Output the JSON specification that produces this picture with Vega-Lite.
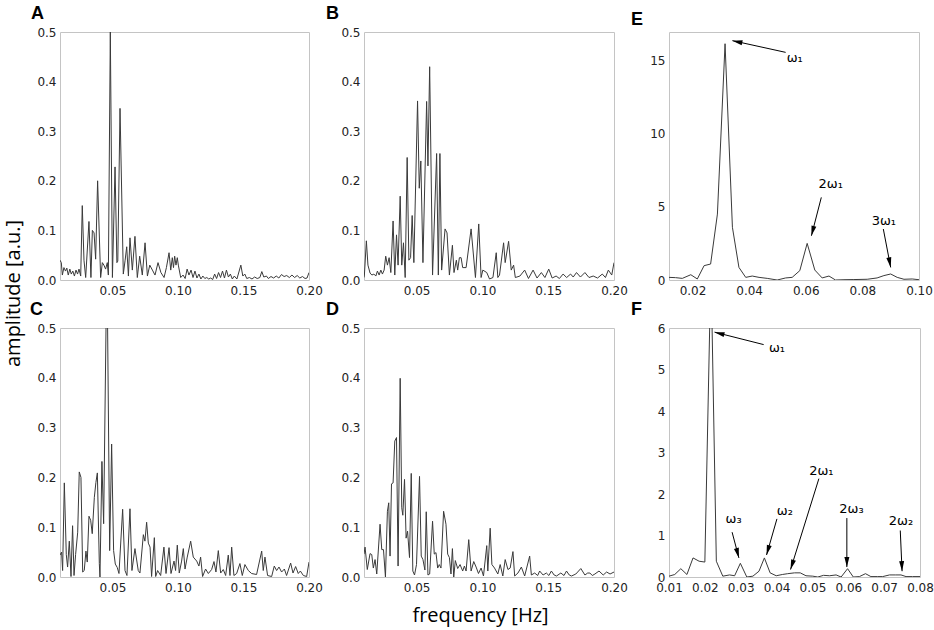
{
  "$schema": "https://vega.github.io/schema/vega-lite/v6.json",
  "padding": {"left": 2, "top": 4, "right": 5, "bottom": 5},
  "background": "white",
  "config": {
    "view": {"stroke": "#c4c4c4", "strokeWidth": 1},
    "axis": {"grid": false, "ticks": false, "domain": false, "labelFont": "DejaVu Sans", "labelFontSize": 12, "labelColor": "#222222", "labelPadding": 4, "labelFlush": false, "labelOverlap": false, "title": null},
    "title": {"font": "Liberation Sans", "fontSize": 18, "fontWeight": "bold", "color": "#000000", "anchor": "start", "frame": "group", "baseline": "alphabetic", "offset": 3}
  },
  "datasets": {
    "A": [
      {"f":0.0100,"a":0.040},{"f":0.0110,"a":0.035},{"f":0.0118,"a":0.010},{"f":0.0130,"a":0.025},{"f":0.0142,"a":0.018},{"f":0.0152,"a":0.024},{"f":0.0163,"a":0.010},{"f":0.0175,"a":0.022},{"f":0.0186,"a":0.012},{"f":0.0198,"a":0.018},{"f":0.0210,"a":0.008},{"f":0.0222,"a":0.020},{"f":0.0234,"a":0.012},{"f":0.0245,"a":0.022},{"f":0.0258,"a":0.008},{"f":0.0270,"a":0.150},{"f":0.0283,"a":0.040},{"f":0.0296,"a":0.005},{"f":0.0321,"a":0.118},{"f":0.0336,"a":0.005},{"f":0.0347,"a":0.100},{"f":0.0360,"a":0.095},{"f":0.0372,"a":0.042},{"f":0.0387,"a":0.200},{"f":0.0410,"a":0.005},{"f":0.0423,"a":0.035},{"f":0.0435,"a":0.030},{"f":0.0448,"a":0.022},{"f":0.0461,"a":0.035},{"f":0.0469,"a":0.010},{"f":0.0484,"a":0.500},{"f":0.0500,"a":0.005},{"f":0.0520,"a":0.228},{"f":0.0534,"a":0.035},{"f":0.0541,"a":0.038},{"f":0.0558,"a":0.346},{"f":0.0583,"a":0.012},{"f":0.0597,"a":0.040},{"f":0.0609,"a":0.067},{"f":0.0622,"a":0.008},{"f":0.0634,"a":0.085},{"f":0.0652,"a":0.020},{"f":0.0672,"a":0.088},{"f":0.0690,"a":0.005},{"f":0.0708,"a":0.048},{"f":0.0728,"a":0.010},{"f":0.0749,"a":0.075},{"f":0.0767,"a":0.008},{"f":0.0785,"a":0.030},{"f":0.0805,"a":0.020},{"f":0.0825,"a":0.010},{"f":0.0848,"a":0.035},{"f":0.0870,"a":0.015},{"f":0.0894,"a":0.005},{"f":0.0912,"a":0.025},{"f":0.0932,"a":0.055},{"f":0.0945,"a":0.020},{"f":0.0957,"a":0.045},{"f":0.0966,"a":0.025},{"f":0.0975,"a":0.048},{"f":0.0985,"a":0.030},{"f":0.0995,"a":0.045},{"f":0.1003,"a":0.030},{"f":0.1021,"a":0.005},{"f":0.1039,"a":0.010},{"f":0.1055,"a":0.003},{"f":0.1070,"a":0.022},{"f":0.1084,"a":0.010},{"f":0.1100,"a":0.020},{"f":0.1115,"a":0.005},{"f":0.1130,"a":0.018},{"f":0.1145,"a":0.004},{"f":0.1160,"a":0.012},{"f":0.1175,"a":0.002},{"f":0.1190,"a":0.008},{"f":0.1205,"a":0.003},{"f":0.1220,"a":0.005},{"f":0.1235,"a":0.002},{"f":0.1250,"a":0.004},{"f":0.1265,"a":0.001},{"f":0.1280,"a":0.012},{"f":0.1295,"a":0.003},{"f":0.1310,"a":0.015},{"f":0.1325,"a":0.005},{"f":0.1340,"a":0.018},{"f":0.1355,"a":0.004},{"f":0.1370,"a":0.020},{"f":0.1385,"a":0.006},{"f":0.1400,"a":0.012},{"f":0.1415,"a":0.002},{"f":0.1430,"a":0.008},{"f":0.1450,"a":0.002},{"f":0.1480,"a":0.030},{"f":0.1495,"a":0.008},{"f":0.1510,"a":0.012},{"f":0.1525,"a":0.003},{"f":0.1545,"a":0.005},{"f":0.1565,"a":0.002},{"f":0.1585,"a":0.006},{"f":0.1605,"a":0.003},{"f":0.1625,"a":0.005},{"f":0.1640,"a":0.017},{"f":0.1655,"a":0.006},{"f":0.1675,"a":0.008},{"f":0.1690,"a":0.003},{"f":0.1710,"a":0.007},{"f":0.1730,"a":0.004},{"f":0.1750,"a":0.008},{"f":0.1770,"a":0.004},{"f":0.1790,"a":0.011},{"f":0.1810,"a":0.007},{"f":0.1830,"a":0.009},{"f":0.1850,"a":0.005},{"f":0.1870,"a":0.010},{"f":0.1890,"a":0.005},{"f":0.1910,"a":0.009},{"f":0.1930,"a":0.004},{"f":0.1950,"a":0.007},{"f":0.1970,"a":0.003},{"f":0.1985,"a":0.004},{"f":0.2000,"a":0.015}
    ],
    "B": [
      {"f":0.0100,"a":0.005},{"f":0.0103,"a":0.010},{"f":0.0118,"a":0.079},{"f":0.0130,"a":0.030},{"f":0.0146,"a":0.014},{"f":0.0160,"a":0.010},{"f":0.0175,"a":0.012},{"f":0.0190,"a":0.008},{"f":0.0202,"a":0.018},{"f":0.0215,"a":0.010},{"f":0.0228,"a":0.020},{"f":0.0240,"a":0.012},{"f":0.0253,"a":0.020},{"f":0.0265,"a":0.048},{"f":0.0278,"a":0.030},{"f":0.0291,"a":0.045},{"f":0.0304,"a":0.015},{"f":0.0321,"a":0.119},{"f":0.0334,"a":0.010},{"f":0.0347,"a":0.091},{"f":0.0359,"a":0.030},{"f":0.0375,"a":0.169},{"f":0.0387,"a":0.030},{"f":0.0400,"a":0.075},{"f":0.0413,"a":0.005},{"f":0.0428,"a":0.247},{"f":0.0441,"a":0.040},{"f":0.0454,"a":0.045},{"f":0.0466,"a":0.130},{"f":0.0479,"a":0.035},{"f":0.0507,"a":0.361},{"f":0.0520,"a":0.185},{"f":0.0532,"a":0.240},{"f":0.0548,"a":0.035},{"f":0.0576,"a":0.360},{"f":0.0586,"a":0.230},{"f":0.0599,"a":0.430},{"f":0.0621,"a":0.010},{"f":0.0652,"a":0.255},{"f":0.0665,"a":0.010},{"f":0.0677,"a":0.255},{"f":0.0690,"a":0.020},{"f":0.0716,"a":0.103},{"f":0.0731,"a":0.095},{"f":0.0749,"a":0.010},{"f":0.0772,"a":0.070},{"f":0.0784,"a":0.015},{"f":0.0802,"a":0.040},{"f":0.0812,"a":0.020},{"f":0.0825,"a":0.045},{"f":0.0838,"a":0.045},{"f":0.0850,"a":0.025},{"f":0.0876,"a":0.025},{"f":0.0914,"a":0.103},{"f":0.0947,"a":0.005},{"f":0.0972,"a":0.113},{"f":0.0990,"a":0.005},{"f":0.1003,"a":0.020},{"f":0.1033,"a":0.015},{"f":0.1054,"a":0.002},{"f":0.1080,"a":0.005},{"f":0.1105,"a":0.055},{"f":0.1117,"a":0.005},{"f":0.1130,"a":0.010},{"f":0.1161,"a":0.075},{"f":0.1173,"a":0.035},{"f":0.1199,"a":0.078},{"f":0.1219,"a":0.020},{"f":0.1237,"a":0.030},{"f":0.1250,"a":0.005},{"f":0.1285,"a":0.008},{"f":0.1321,"a":0.020},{"f":0.1350,"a":0.003},{"f":0.1385,"a":0.020},{"f":0.1415,"a":0.004},{"f":0.1448,"a":0.015},{"f":0.1475,"a":0.005},{"f":0.1504,"a":0.022},{"f":0.1530,"a":0.004},{"f":0.1560,"a":0.008},{"f":0.1585,"a":0.003},{"f":0.1613,"a":0.012},{"f":0.1640,"a":0.005},{"f":0.1670,"a":0.012},{"f":0.1690,"a":0.006},{"f":0.1715,"a":0.015},{"f":0.1745,"a":0.006},{"f":0.1779,"a":0.015},{"f":0.1810,"a":0.005},{"f":0.1842,"a":0.008},{"f":0.1875,"a":0.004},{"f":0.1911,"a":0.012},{"f":0.1935,"a":0.005},{"f":0.1957,"a":0.020},{"f":0.1983,"a":0.010},{"f":0.2000,"a":0.035}
    ],
    "C": [
      {"f":0.0100,"a":0.044},{"f":0.0112,"a":0.050},{"f":0.0120,"a":0.013},{"f":0.0133,"a":0.189},{"f":0.0148,"a":0.045},{"f":0.0158,"a":0.020},{"f":0.0171,"a":0.072},{"f":0.0184,"a":0.001},{"f":0.0196,"a":0.103},{"f":0.0207,"a":0.003},{"f":0.0219,"a":0.045},{"f":0.0235,"a":0.090},{"f":0.0247,"a":0.211},{"f":0.0260,"a":0.200},{"f":0.0273,"a":0.010},{"f":0.0285,"a":0.013},{"f":0.0298,"a":0.052},{"f":0.0308,"a":0.030},{"f":0.0321,"a":0.122},{"f":0.0334,"a":0.114},{"f":0.0346,"a":0.087},{"f":0.0362,"a":0.160},{"f":0.0374,"a":0.190},{"f":0.0385,"a":0.209},{"f":0.0400,"a":0.027},{"f":0.0405,"a":0.000},{"f":0.0420,"a":0.232},{"f":0.0433,"a":0.107},{"f":0.0458,"a":0.650},{"f":0.0479,"a":0.053},{"f":0.0494,"a":0.267},{"f":0.0509,"a":0.053},{"f":0.0522,"a":0.026},{"f":0.0537,"a":0.019},{"f":0.0550,"a":0.007},{"f":0.0578,"a":0.136},{"f":0.0596,"a":0.013},{"f":0.0611,"a":0.003},{"f":0.0634,"a":0.137},{"f":0.0649,"a":0.013},{"f":0.0672,"a":0.057},{"f":0.0697,"a":0.013},{"f":0.0710,"a":0.008},{"f":0.0736,"a":0.085},{"f":0.0748,"a":0.072},{"f":0.0761,"a":0.110},{"f":0.0774,"a":0.068},{"f":0.0787,"a":0.060},{"f":0.0799,"a":0.001},{"f":0.0820,"a":0.079},{"f":0.0830,"a":0.001},{"f":0.0845,"a":0.013},{"f":0.0868,"a":0.003},{"f":0.0893,"a":0.060},{"f":0.0909,"a":0.007},{"f":0.0932,"a":0.059},{"f":0.0947,"a":0.007},{"f":0.0970,"a":0.032},{"f":0.0982,"a":0.013},{"f":0.0995,"a":0.064},{"f":0.1010,"a":0.008},{"f":0.1028,"a":0.032},{"f":0.1041,"a":0.057},{"f":0.1054,"a":0.016},{"f":0.1071,"a":0.040},{"f":0.1097,"a":0.072},{"f":0.1117,"a":0.040},{"f":0.1143,"a":0.032},{"f":0.1160,"a":0.022},{"f":0.1173,"a":0.040},{"f":0.1188,"a":0.001},{"f":0.1211,"a":0.016},{"f":0.1232,"a":0.007},{"f":0.1257,"a":0.015},{"f":0.1275,"a":0.031},{"f":0.1290,"a":0.010},{"f":0.1308,"a":0.053},{"f":0.1326,"a":0.008},{"f":0.1346,"a":0.015},{"f":0.1364,"a":0.003},{"f":0.1384,"a":0.044},{"f":0.1397,"a":0.003},{"f":0.1410,"a":0.060},{"f":0.1427,"a":0.003},{"f":0.1448,"a":0.007},{"f":0.1473,"a":0.027},{"f":0.1491,"a":0.003},{"f":0.1511,"a":0.025},{"f":0.1537,"a":0.013},{"f":0.1562,"a":0.007},{"f":0.1600,"a":0.005},{"f":0.1639,"a":0.052},{"f":0.1651,"a":0.013},{"f":0.1664,"a":0.040},{"f":0.1684,"a":0.003},{"f":0.1715,"a":0.001},{"f":0.1735,"a":0.022},{"f":0.1753,"a":0.013},{"f":0.1771,"a":0.020},{"f":0.1791,"a":0.010},{"f":0.1812,"a":0.016},{"f":0.1829,"a":0.003},{"f":0.1860,"a":0.028},{"f":0.1878,"a":0.008},{"f":0.1898,"a":0.021},{"f":0.1918,"a":0.007},{"f":0.1934,"a":0.012},{"f":0.1957,"a":0.003},{"f":0.1982,"a":0.001},{"f":0.2000,"a":0.030}
    ],
    "D": [
      {"f":0.0100,"a":0.046},{"f":0.0108,"a":0.060},{"f":0.0125,"a":0.015},{"f":0.0146,"a":0.047},{"f":0.0159,"a":0.045},{"f":0.0171,"a":0.018},{"f":0.0184,"a":0.035},{"f":0.0197,"a":0.006},{"f":0.0222,"a":0.106},{"f":0.0235,"a":0.055},{"f":0.0248,"a":0.055},{"f":0.0263,"a":0.000},{"f":0.0278,"a":0.132},{"f":0.0288,"a":0.149},{"f":0.0298,"a":0.042},{"f":0.0309,"a":0.187},{"f":0.0321,"a":0.189},{"f":0.0334,"a":0.273},{"f":0.0347,"a":0.280},{"f":0.0359,"a":0.022},{"f":0.0375,"a":0.399},{"f":0.0387,"a":0.139},{"f":0.0395,"a":0.124},{"f":0.0408,"a":0.196},{"f":0.0420,"a":0.078},{"f":0.0431,"a":0.092},{"f":0.0446,"a":0.039},{"f":0.0459,"a":0.208},{"f":0.0471,"a":0.012},{"f":0.0484,"a":0.004},{"f":0.0499,"a":0.025},{"f":0.0522,"a":0.202},{"f":0.0535,"a":0.042},{"f":0.0548,"a":0.035},{"f":0.0563,"a":0.014},{"f":0.0573,"a":0.131},{"f":0.0586,"a":0.004},{"f":0.0599,"a":0.006},{"f":0.0621,"a":0.112},{"f":0.0634,"a":0.046},{"f":0.0647,"a":0.049},{"f":0.0660,"a":0.018},{"f":0.0672,"a":0.025},{"f":0.0685,"a":0.018},{"f":0.0705,"a":0.132},{"f":0.0723,"a":0.106},{"f":0.0736,"a":0.046},{"f":0.0749,"a":0.039},{"f":0.0761,"a":0.006},{"f":0.0772,"a":0.057},{"f":0.0782,"a":0.000},{"f":0.0794,"a":0.033},{"f":0.0812,"a":0.017},{"f":0.0830,"a":0.025},{"f":0.0850,"a":0.012},{"f":0.0863,"a":0.022},{"f":0.0876,"a":0.012},{"f":0.0896,"a":0.075},{"f":0.0914,"a":0.012},{"f":0.0934,"a":0.031},{"f":0.0952,"a":0.020},{"f":0.0970,"a":0.007},{"f":0.0990,"a":0.018},{"f":0.1008,"a":0.002},{"f":0.1033,"a":0.063},{"f":0.1041,"a":0.012},{"f":0.1059,"a":0.098},{"f":0.1072,"a":0.025},{"f":0.1092,"a":0.018},{"f":0.1117,"a":0.006},{"f":0.1135,"a":0.025},{"f":0.1155,"a":0.002},{"f":0.1173,"a":0.035},{"f":0.1194,"a":0.015},{"f":0.1211,"a":0.018},{"f":0.1232,"a":0.051},{"f":0.1245,"a":0.002},{"f":0.1270,"a":0.008},{"f":0.1296,"a":0.020},{"f":0.1321,"a":0.002},{"f":0.1359,"a":0.042},{"f":0.1372,"a":0.004},{"f":0.1397,"a":0.008},{"f":0.1420,"a":0.003},{"f":0.1435,"a":0.012},{"f":0.1461,"a":0.004},{"f":0.1486,"a":0.008},{"f":0.1505,"a":0.003},{"f":0.1524,"a":0.012},{"f":0.1545,"a":0.004},{"f":0.1563,"a":0.002},{"f":0.1596,"a":0.008},{"f":0.1620,"a":0.003},{"f":0.1639,"a":0.012},{"f":0.1660,"a":0.004},{"f":0.1677,"a":0.002},{"f":0.1710,"a":0.006},{"f":0.1748,"a":0.017},{"f":0.1779,"a":0.004},{"f":0.1800,"a":0.008},{"f":0.1817,"a":0.008},{"f":0.1835,"a":0.003},{"f":0.1855,"a":0.006},{"f":0.1886,"a":0.012},{"f":0.1918,"a":0.004},{"f":0.1944,"a":0.010},{"f":0.1970,"a":0.006},{"f":0.2000,"a":0.010}
    ],
    "E": [
      {"f":0.0117,"a":0.18},{"f":0.0140,"a":0.16},{"f":0.0164,"a":0.11},{"f":0.0194,"a":0.36},{"f":0.0217,"a":0.07},{"f":0.0241,"a":0.98},{"f":0.0264,"a":1.09},{"f":0.0288,"a":4.5},{"f":0.0315,"a":16.13},{"f":0.0341,"a":3.6},{"f":0.0364,"a":0.86},{"f":0.0388,"a":0.18},{"f":0.0411,"a":0.27},{"f":0.0435,"a":0.18},{"f":0.0464,"a":0.11},{"f":0.0499,"a":0.0},{"f":0.0529,"a":0.14},{"f":0.0552,"a":0.18},{"f":0.0579,"a":0.64},{"f":0.0605,"a":2.5},{"f":0.0632,"a":0.68},{"f":0.0658,"a":0.14},{"f":0.0682,"a":0.27},{"f":0.0705,"a":0.0},{"f":0.0735,"a":0.02},{"f":0.0770,"a":0.03},{"f":0.0817,"a":0.05},{"f":0.0852,"a":0.14},{"f":0.0876,"a":0.3},{"f":0.0900,"a":0.41},{"f":0.0923,"a":0.18},{"f":0.0947,"a":0.05},{"f":0.0976,"a":0.07},{"f":0.1000,"a":0.02}
    ],
    "F": [
      {"f":0.0100,"a":0.02},{"f":0.0116,"a":0.06},{"f":0.0133,"a":0.20},{"f":0.0150,"a":0.06},{"f":0.0167,"a":0.46},{"f":0.0184,"a":0.38},{"f":0.0200,"a":0.36},{"f":0.0217,"a":7.5},{"f":0.0232,"a":0.38},{"f":0.0250,"a":0.02},{"f":0.0269,"a":0.05},{"f":0.0283,"a":0.03},{"f":0.0299,"a":0.33},{"f":0.0317,"a":0.0},{"f":0.0334,"a":0.02},{"f":0.0351,"a":0.14},{"f":0.0366,"a":0.46},{"f":0.0382,"a":0.10},{"f":0.0399,"a":0.03},{"f":0.0416,"a":0.06},{"f":0.0431,"a":0.08},{"f":0.0450,"a":0.10},{"f":0.0466,"a":0.10},{"f":0.0482,"a":0.03},{"f":0.0501,"a":0.02},{"f":0.0515,"a":0.0},{"f":0.0531,"a":0.04},{"f":0.0548,"a":0.03},{"f":0.0566,"a":0.05},{"f":0.0580,"a":0.0},{"f":0.0598,"a":0.20},{"f":0.0614,"a":0.0},{"f":0.0631,"a":0.01},{"f":0.0648,"a":0.08},{"f":0.0663,"a":0.01},{"f":0.0682,"a":0.01},{"f":0.0696,"a":0.01},{"f":0.0715,"a":0.05},{"f":0.0731,"a":0.05},{"f":0.0747,"a":0.05},{"f":0.0761,"a":0.01},{"f":0.0779,"a":0.01},{"f":0.0800,"a":0.01}
    ],
    "Eann": [
      {"lab":"ω₁","lx":0.0561,"ly":15.17,"x0":0.0529,"y0":15.54,"x1":0.0341,"y1":16.34},
      {"lab":"2ω₁","lx":0.0688,"ly":6.55,"x0":0.0655,"y0":5.64,"x1":0.0620,"y1":3.02},
      {"lab":"3ω₁","lx":0.0876,"ly":4.05,"x0":0.0874,"y0":3.48,"x1":0.0900,"y1":0.86}
    ],
    "Fann": [
      {"lab":"ω₁","lx":0.0401,"ly":5.51,"x0":0.0364,"y0":5.60,"x1":0.0227,"y1":5.90},
      {"lab":"ω₃","lx":0.0280,"ly":1.40,"x0":0.0276,"y0":1.08,"x1":0.0295,"y1":0.46},
      {"lab":"ω₂","lx":0.0423,"ly":1.59,"x0":0.0401,"y0":1.40,"x1":0.0372,"y1":0.53},
      {"lab":"2ω₁","lx":0.0525,"ly":2.56,"x0":0.0518,"y0":2.37,"x1":0.0439,"y1":0.18},
      {"lab":"2ω₃","lx":0.0609,"ly":1.64,"x0":0.0596,"y0":1.42,"x1":0.0596,"y1":0.24},
      {"lab":"2ω₂","lx":0.0747,"ly":1.34,"x0":0.0745,"y0":1.12,"x1":0.0750,"y1":0.14}
    ]
  },
  "bounds": "flush",
  "columns": 3,
  "spacing": {"row": 48, "column": 55},
  "concat": [
    {
      "width": 249, "height": 248,
      "title": {"text": "A", "dx": -29},
      "data": {"name": "A"},
      "mark": {"type": "line", "color": "#3a3a3a", "strokeWidth": 1, "clip": true},
      "encoding": {
        "x": {"field": "f", "type": "quantitative", "scale": {"domain": [0.01, 0.2], "nice": false, "zero": false}, "axis": {"values": [0.05, 0.1, 0.15, 0.2], "format": ".2f", "labelPadding": 5, "labelOverlap": false}},
        "y": {"field": "a", "type": "quantitative", "scale": {"domain": [0, 0.5], "nice": false}, "axis": {"values": [0, 0.1, 0.2, 0.3, 0.4, 0.5], "format": ".1f", "labelOverlap": false, "title": "amplitude [a.u.]", "titleX": -47, "titleY": 261, "titleAngle": 270, "titleAlign": "center", "titleBaseline": "middle", "titleFont": "Open Sans", "titleFontSize": 20, "titleFontWeight": "normal", "titleColor": "#000000"}}
      }
    },
    {
      "width": 250, "height": 248,
      "title": {"text": "B", "dx": -38},
      "data": {"name": "B"},
      "mark": {"type": "line", "color": "#3a3a3a", "strokeWidth": 1, "clip": true},
      "encoding": {
        "x": {"field": "f", "type": "quantitative", "scale": {"domain": [0.01, 0.2], "nice": false, "zero": false}, "axis": {"values": [0.05, 0.1, 0.15, 0.2], "format": ".2f", "labelPadding": 5, "labelOverlap": false}},
        "y": {"field": "a", "type": "quantitative", "scale": {"domain": [0, 0.5], "nice": false}, "axis": {"values": [0, 0.1, 0.2, 0.3, 0.4, 0.5], "format": ".1f", "labelOverlap": false}}
      }
    },
    {
      "width": 250, "height": 248,
      "title": {"text": "E", "dx": -38},
      "layer": [
        {
          "data": {"name": "E"},
          "mark": {"type": "line", "color": "#3a3a3a", "strokeWidth": 1, "clip": true},
          "encoding": {
            "x": {"field": "f", "type": "quantitative", "scale": {"domain": [0.0117, 0.1], "nice": false, "zero": false}, "axis": {"values": [0.02, 0.04, 0.06, 0.08, 0.1], "format": ".2f", "labelPadding": 5, "labelOverlap": false}},
            "y": {"field": "a", "type": "quantitative", "scale": {"domain": [0, 16.93], "nice": false}, "axis": {"values": [0, 5, 10, 15], "format": "d", "labelOverlap": false}}
          }
        },
        {
          "data": {"name": "Eann"},
          "mark": {"type": "rule", "color": "#000000", "strokeWidth": 1},
          "encoding": {
            "x": {"field": "x0", "type": "quantitative", "axis": {"values": [0.02, 0.04, 0.06, 0.08, 0.1], "format": ".2f", "labelPadding": 5, "labelOverlap": false}},
            "y": {"field": "y0", "type": "quantitative", "axis": {"values": [0, 5, 10, 15], "format": "d", "labelOverlap": false}},
            "x2": {"field": "x1"},
            "y2": {"field": "y1"}
          }
        },
        {
          "data": {"name": "Eann"},
          "transform": [{"calculate": "atan2((datum.x1 - datum.x0) * 2831, (datum.y1 - datum.y0) * 14.65) * 180 / PI", "as": "ang"}],
          "mark": {"type": "point", "shape": "M0,0L-0.5,2L0.5,2Z", "filled": true, "color": "#000000", "opacity": 1, "size": 100, "strokeWidth": 0},
          "encoding": {
            "x": {"field": "x1", "type": "quantitative", "axis": {"values": [0.02, 0.04, 0.06, 0.08, 0.1], "format": ".2f", "labelPadding": 5, "labelOverlap": false}},
            "y": {"field": "y1", "type": "quantitative", "axis": {"values": [0, 5, 10, 15], "format": "d", "labelOverlap": false}},
            "angle": {"field": "ang", "type": "quantitative", "scale": null}
          }
        },
        {
          "data": {"name": "Eann"},
          "mark": {"type": "text", "font": "DejaVu Sans", "fontSize": 13, "color": "#000000", "align": "center", "baseline": "middle"},
          "encoding": {
            "x": {"field": "lx", "type": "quantitative", "axis": {"values": [0.02, 0.04, 0.06, 0.08, 0.1], "format": ".2f", "labelPadding": 5, "labelOverlap": false}},
            "y": {"field": "ly", "type": "quantitative", "axis": {"values": [0, 5, 10, 15], "format": "d", "labelOverlap": false}},
            "text": {"field": "lab"}
          }
        }
      ]
    },
    {
      "width": 249, "height": 249,
      "title": {"text": "C", "dx": -30},
      "data": {"name": "C"},
      "mark": {"type": "line", "color": "#3a3a3a", "strokeWidth": 1, "clip": true},
      "encoding": {
        "x": {"field": "f", "type": "quantitative", "scale": {"domain": [0.01, 0.2], "nice": false, "zero": false}, "axis": {"values": [0.05, 0.1, 0.15, 0.2], "format": ".2f", "labelPadding": 5, "labelOverlap": false}},
        "y": {"field": "a", "type": "quantitative", "scale": {"domain": [0, 0.5], "nice": false}, "axis": {"values": [0, 0.1, 0.2, 0.3, 0.4, 0.5], "format": ".1f", "labelOverlap": false}}
      }
    },
    {
      "width": 250, "height": 249,
      "title": {"text": "D", "dx": -38},
      "data": {"name": "D"},
      "mark": {"type": "line", "color": "#3a3a3a", "strokeWidth": 1, "clip": true},
      "encoding": {
        "x": {"field": "f", "type": "quantitative", "scale": {"domain": [0.01, 0.2], "nice": false, "zero": false}, "axis": {"values": [0.05, 0.1, 0.15, 0.2], "format": ".2f", "labelPadding": 5, "labelOverlap": false, "title": "frequency [Hz]", "titleX": 116, "titleY": 44, "titleAlign": "center", "titleBaseline": "alphabetic", "titleFont": "Open Sans", "titleFontSize": 20, "titleFontWeight": "normal", "titleColor": "#000000"}},
        "y": {"field": "a", "type": "quantitative", "scale": {"domain": [0, 0.5], "nice": false}, "axis": {"values": [0, 0.1, 0.2, 0.3, 0.4, 0.5], "format": ".1f", "labelOverlap": false}}
      }
    },
    {
      "width": 251, "height": 249,
      "title": {"text": "F", "dx": -38},
      "layer": [
        {
          "data": {"name": "F"},
          "mark": {"type": "line", "color": "#3a3a3a", "strokeWidth": 1, "clip": true},
          "encoding": {
            "x": {"field": "f", "type": "quantitative", "scale": {"domain": [0.01, 0.08], "nice": false, "zero": false}, "axis": {"values": [0.01, 0.02, 0.03, 0.04, 0.05, 0.06, 0.07, 0.08], "format": ".2f", "labelPadding": 5, "labelOverlap": false}},
            "y": {"field": "a", "type": "quantitative", "scale": {"domain": [0, 6], "nice": false}, "axis": {"values": [0, 1, 2, 3, 4, 5, 6], "format": "d", "labelOverlap": false}}
          }
        },
        {
          "data": {"name": "Fann"},
          "mark": {"type": "rule", "color": "#000000", "strokeWidth": 1},
          "encoding": {
            "x": {"field": "x0", "type": "quantitative", "axis": {"values": [0.01, 0.02, 0.03, 0.04, 0.05, 0.06, 0.07, 0.08], "format": ".2f", "labelPadding": 5, "labelOverlap": false}},
            "y": {"field": "y0", "type": "quantitative", "axis": {"values": [0, 1, 2, 3, 4, 5, 6], "format": "d", "labelOverlap": false}},
            "x2": {"field": "x1"},
            "y2": {"field": "y1"}
          }
        },
        {
          "data": {"name": "Fann"},
          "transform": [{"calculate": "atan2((datum.x1 - datum.x0) * 3586, (datum.y1 - datum.y0) * 41.5) * 180 / PI", "as": "ang"}],
          "mark": {"type": "point", "shape": "M0,0L-0.5,2L0.5,2Z", "filled": true, "color": "#000000", "opacity": 1, "size": 100, "strokeWidth": 0},
          "encoding": {
            "x": {"field": "x1", "type": "quantitative", "axis": {"values": [0.01, 0.02, 0.03, 0.04, 0.05, 0.06, 0.07, 0.08], "format": ".2f", "labelPadding": 5, "labelOverlap": false}},
            "y": {"field": "y1", "type": "quantitative", "axis": {"values": [0, 1, 2, 3, 4, 5, 6], "format": "d", "labelOverlap": false}},
            "angle": {"field": "ang", "type": "quantitative", "scale": null}
          }
        },
        {
          "data": {"name": "Fann"},
          "mark": {"type": "text", "font": "DejaVu Sans", "fontSize": 13, "color": "#000000", "align": "center", "baseline": "middle"},
          "encoding": {
            "x": {"field": "lx", "type": "quantitative", "axis": {"values": [0.01, 0.02, 0.03, 0.04, 0.05, 0.06, 0.07, 0.08], "format": ".2f", "labelPadding": 5, "labelOverlap": false}},
            "y": {"field": "ly", "type": "quantitative", "axis": {"values": [0, 1, 2, 3, 4, 5, 6], "format": "d", "labelOverlap": false}},
            "text": {"field": "lab"}
          }
        }
      ]
    }
  ]
}
